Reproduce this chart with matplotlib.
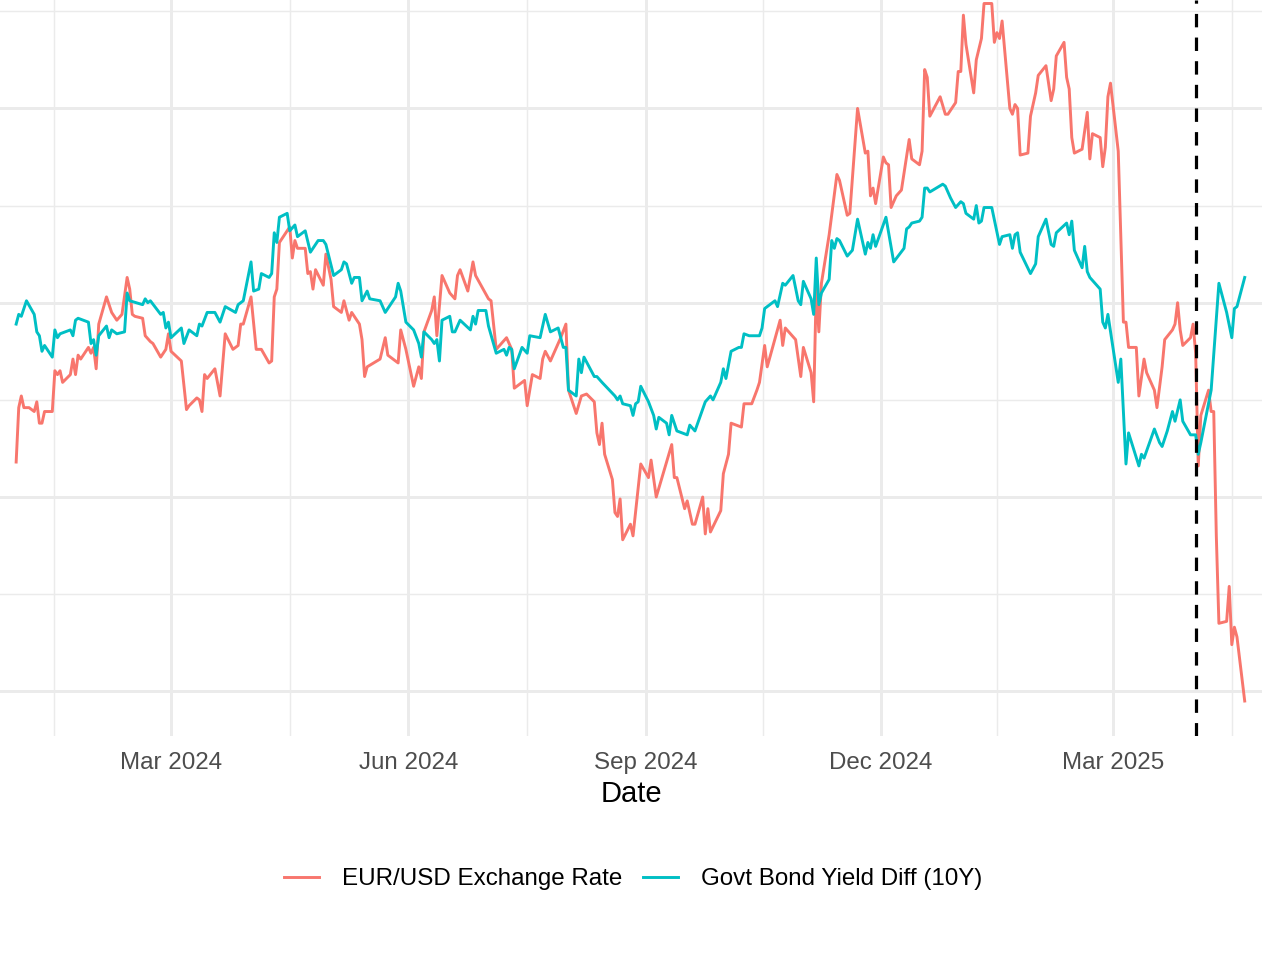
import pandas as pd
import matplotlib
matplotlib.use("Agg")
import matplotlib.pyplot as plt
import matplotlib.dates as mdates
from matplotlib.ticker import FixedLocator, NullFormatter

# both series are standardised (z-scores), dates are days since 2024-01-01
start = pd.Timestamp("2024-01-01")
event_date = pd.Timestamp("2025-04-02")

fx_days = [0, 1, 2, 3, 5, 7, 8, 9, 10, 11, 14, 15, 16, 17, 18, 21, 22, 23, 24, 25,
           28, 29, 30, 31, 32, 35, 37, 39, 41, 43, 44, 45, 46, 49, 50, 52, 53, 56, 58, 59,
           60, 64, 66, 67, 70, 71, 72, 73, 74, 77, 79, 81, 84, 86, 87, 88, 91, 93, 95, 98,
           99, 100, 101, 102, 106, 107, 108, 109, 112, 113, 114, 115, 116, 119, 120, 122, 123, 126, 127, 129,
           130, 133, 134, 135, 136, 141, 143, 144, 148, 149, 151, 154, 156, 157, 158, 161, 162, 163, 165, 168,
           170, 171, 172, 175, 177, 178, 183, 184, 186, 190, 192, 193, 197, 198, 200, 203, 204, 205, 207, 211,
           213, 214, 217, 219, 221, 224, 225, 226, 227, 228, 231, 232, 233, 234, 235, 238, 239, 242, 245, 246,
           248, 254, 255, 256, 259, 260, 262, 263, 266, 267, 268, 269, 273, 274, 276, 277, 281, 282, 285, 287,
           288, 290, 291, 296, 297, 298, 302, 304, 305, 308, 309, 310, 311, 312, 315, 318, 319, 322, 323, 326,
           329, 330, 331, 332, 333, 336, 337, 338, 339, 341, 343, 346, 347, 350, 351, 352, 353, 354, 358, 360,
           361, 364, 365, 366, 367, 368, 371, 372, 374, 375, 378, 379, 380, 381, 382, 385, 386, 387, 388, 389,
           392, 393, 395, 396, 399, 401, 402, 403, 406, 407, 408, 409, 410, 413, 415, 416, 417, 420, 421, 422,
           423, 424, 427, 429, 430, 431, 434, 435, 437, 438, 441, 442, 444, 445, 448, 449, 450, 451, 452, 455,
           456, 457, 458, 459, 462, 463, 464, 465, 466, 469, 470, 471, 472, 473, 476]
fx_z = [0.18, 0.46, 0.52, 0.46, 0.46, 0.44, 0.49, 0.38, 0.38, 0.44, 0.44, 0.65, 0.63, 0.65, 0.59, 0.63, 0.71, 0.63, 0.73, 0.71,
        0.77, 0.74, 0.77, 0.66, 0.89, 1.03, 0.95, 0.91, 0.94, 1.13, 1.07, 0.94, 0.93, 0.92, 0.83, 0.80, 0.79, 0.72, 0.76, 0.84,
        0.75, 0.70, 0.45, 0.47, 0.51, 0.50, 0.44, 0.63, 0.61, 0.66, 0.52, 0.84, 0.76, 0.78, 0.89, 0.89, 1.03, 0.76, 0.76, 0.69,
        0.70, 1.03, 1.07, 1.31, 1.39, 1.23, 1.32, 1.28, 1.28, 1.15, 1.16, 1.07, 1.17, 1.09, 1.25, 1.12, 0.98, 0.95, 1.01, 0.91,
        0.95, 0.89, 0.81, 0.62, 0.67, 0.71, 0.82, 0.73, 0.69, 0.86, 0.76, 0.57, 0.67, 0.61, 0.85, 0.96, 1.03, 0.83, 1.14, 1.05,
        1.02, 1.14, 1.17, 1.06, 1.21, 1.14, 1.02, 1.01, 0.76, 0.82, 0.76, 0.56, 0.60, 0.47, 0.63, 0.61, 0.71, 0.75, 0.70, 0.82,
        0.89, 0.55, 0.43, 0.52, 0.53, 0.49, 0.33, 0.27, 0.38, 0.22, 0.09, -0.08, -0.10, -0.01, -0.22, -0.14, -0.20, 0.17, 0.10, 0.19,
        0.00, 0.27, 0.10, 0.10, -0.06, -0.02, -0.14, -0.14, 0.00, -0.19, -0.06, -0.18, -0.07, 0.12, 0.22, 0.38, 0.36, 0.48, 0.48, 0.55,
        0.59, 0.78, 0.67, 0.91, 0.78, 0.87, 0.81, 0.62, 0.77, 0.64, 0.49, 1.08, 0.85, 1.10, 1.35, 1.66, 1.63, 1.45, 1.46, 2.00,
        1.77, 1.78, 1.55, 1.59, 1.51, 1.75, 1.72, 1.71, 1.49, 1.55, 1.58, 1.84, 1.74, 1.71, 1.78, 2.20, 2.16, 1.96, 2.06, 1.97,
        1.97, 2.03, 2.19, 2.19, 2.48, 2.33, 2.08, 2.25, 2.36, 2.54, 2.54, 2.34, 2.39, 2.36, 2.45, 2.00, 1.97, 2.02, 2.00, 1.76,
        1.77, 1.96, 2.08, 2.17, 2.22, 2.04, 2.10, 2.27, 2.34, 2.16, 2.10, 1.85, 1.77, 1.79, 1.98, 1.74, 1.87, 1.85, 1.70, 1.80,
        2.06, 2.13, 1.78, 0.90, 0.90, 0.77, 0.77, 0.52, 0.71, 0.64, 0.55, 0.46, 0.67, 0.81, 0.86, 0.89, 1.00, 0.86, 0.78, 0.82,
        0.89, 0.74, 0.16, 0.42, 0.55, 0.44, 0.44, -0.20, -0.65, -0.64, -0.46, -0.76, -0.67, -0.72, -1.05]

bond_days = [0, 1, 2, 4, 7, 8, 9, 10, 11, 14, 15, 16, 17, 21, 22, 23, 24, 28, 29, 30,
             31, 32, 35, 36, 37, 39, 42, 43, 44, 49, 50, 51, 52, 56, 57, 58, 59, 60, 64, 65,
             67, 70, 71, 72, 74, 77, 79, 81, 85, 86, 88, 91, 92, 94, 95, 98, 99, 100, 101, 102,
             105, 106, 108, 109, 112, 114, 117, 119, 120, 123, 126, 127, 128, 130, 131, 133, 134, 136, 137, 141,
             143, 147, 148, 149, 151, 154, 156, 157, 158, 161, 162, 163, 164, 165, 168, 169, 170, 172, 176, 177,
             178, 179, 182, 183, 186, 189, 190, 191, 192, 193, 196, 198, 199, 203, 205, 207, 210, 212, 213, 214,
             217, 218, 219, 220, 224, 225, 227, 232, 233, 234, 235, 238, 239, 240, 241, 242, 245, 247, 248, 249,
             252, 253, 254, 256, 260, 261, 263, 267, 269, 270, 273, 274, 275, 277, 280, 281, 282, 284, 288, 289,
             290, 292, 294, 295, 297, 298, 301, 303, 304, 305, 308, 309, 310, 311, 312, 315, 316, 317, 318, 319,
             322, 324, 326, 329, 330, 331, 332, 333, 337, 340, 344, 345, 346, 347, 350, 351, 352, 353, 354, 359,
             360, 362, 364, 366, 367, 368, 371, 372, 373, 374, 375, 378, 381, 382, 385, 386, 387, 388, 389, 393,
             395, 396, 399, 401, 402, 403, 407, 408, 409, 410, 413, 414, 415, 416, 420, 421, 422, 423, 427, 428,
             430, 431, 435, 436, 437, 441, 443, 444, 446, 448, 449, 451, 452, 455, 457, 458, 459, 463, 466, 469,
             471, 472, 473, 476]
bond_z = [0.89, 0.94, 0.93, 1.01, 0.94, 0.85, 0.83, 0.75, 0.78, 0.72, 0.86, 0.82, 0.84, 0.86, 0.83, 0.91, 0.92, 0.90, 0.79, 0.81,
          0.73, 0.83, 0.88, 0.82, 0.86, 0.84, 0.85, 1.05, 1.01, 0.99, 1.02, 1.00, 1.01, 0.94, 0.95, 0.87, 0.90, 0.82, 0.87, 0.79,
          0.86, 0.83, 0.89, 0.88, 0.95, 0.95, 0.90, 0.98, 0.95, 0.99, 1.01, 1.21, 1.06, 1.07, 1.15, 1.13, 1.15, 1.36, 1.31, 1.44,
          1.46, 1.37, 1.40, 1.34, 1.37, 1.26, 1.32, 1.32, 1.30, 1.14, 1.17, 1.21, 1.20, 1.10, 1.13, 1.13, 1.01, 1.06, 1.02, 1.01,
          0.95, 1.03, 1.10, 1.06, 0.90, 0.86, 0.79, 0.72, 0.85, 0.81, 0.79, 0.81, 0.70, 0.91, 0.93, 0.85, 0.85, 0.91, 0.86, 0.93,
          0.89, 0.96, 0.96, 0.88, 0.74, 0.76, 0.73, 0.77, 0.76, 0.66, 0.77, 0.74, 0.83, 0.82, 0.94, 0.85, 0.87, 0.77, 0.77, 0.55,
          0.52, 0.71, 0.64, 0.72, 0.62, 0.62, 0.59, 0.52, 0.50, 0.52, 0.48, 0.47, 0.42, 0.48, 0.49, 0.57, 0.49, 0.42, 0.35, 0.41,
          0.38, 0.32, 0.42, 0.34, 0.32, 0.37, 0.34, 0.49, 0.52, 0.50, 0.59, 0.66, 0.61, 0.75, 0.77, 0.77, 0.84, 0.83, 0.83, 0.87,
          0.97, 0.99, 1.01, 0.98, 1.10, 1.09, 1.14, 1.01, 0.99, 1.11, 1.02, 0.94, 1.23, 0.99, 1.05, 1.12, 1.32, 1.28, 1.33, 1.32,
          1.24, 1.27, 1.43, 1.25, 1.31, 1.28, 1.35, 1.29, 1.44, 1.21, 1.28, 1.38, 1.39, 1.41, 1.42, 1.44, 1.59, 1.59, 1.57, 1.61,
          1.60, 1.54, 1.49, 1.52, 1.51, 1.46, 1.43, 1.50, 1.41, 1.42, 1.49, 1.49, 1.30, 1.34, 1.35, 1.28, 1.35, 1.36, 1.26, 1.15,
          1.20, 1.34, 1.43, 1.30, 1.29, 1.36, 1.41, 1.35, 1.42, 1.27, 1.18, 1.29, 1.16, 1.13, 1.07, 0.90, 0.87, 0.94, 0.59, 0.71,
          0.17, 0.33, 0.16, 0.22, 0.20, 0.35, 0.28, 0.26, 0.34, 0.44, 0.39, 0.50, 0.39, 0.32, 0.32, 0.22, 0.28, 0.55, 1.10, 0.95,
          0.82, 0.97, 0.98, 1.13]

fx_dates = start + pd.to_timedelta(fx_days, unit="D")
bond_dates = start + pd.to_timedelta(bond_days, unit="D")

red = "#F8766D"
teal = "#00BFC4"
grid_col = "#EBEBEB"

plt.rcParams['font.family'] = ['Liberation Sans', 'DejaVu Sans']

fig = plt.figure(figsize=(12.62, 9.63), dpi=100)
ax = fig.add_axes([0, 227 / 963, 1, 736 / 963])

ax.plot(fx_dates, fx_z, color=red, lw=2.1, label="EUR/USD Exchange Rate")
ax.plot(bond_dates, bond_z, color=teal, lw=2.1, label="Govt Bond Yield Diff (10Y)")
ax.axvline(event_date, color="black", lw=2.3, linestyle=(0, (4.2, 3.2)))

# quarterly breaks, minor breaks half way between them
majors = pd.date_range("2023-12-01", "2025-06-01", freq="3MS")
minors = majors[:-1] + (majors[1:] - majors[:-1]) / 2
ax.xaxis.set_major_locator(mdates.MonthLocator(bymonth=[3, 6, 9, 12]))
ax.xaxis.set_major_formatter(mdates.DateFormatter("%b %Y"))
ax.xaxis.set_minor_locator(FixedLocator(mdates.date2num(minors)))
ax.yaxis.set_major_locator(FixedLocator([-1, 0, 1, 2]))
ax.yaxis.set_minor_locator(FixedLocator([-0.5, 0.5, 1.5, 2.5]))
ax.yaxis.set_major_formatter(NullFormatter())

ax.grid(which="major", color=grid_col, lw=2.1)
ax.grid(which="minor", color=grid_col, lw=1.05)
ax.set_axisbelow(True)
for s in ax.spines.values():
    s.set_visible(False)
ax.tick_params(which="both", length=0)
ax.tick_params(axis="x", labelsize=17.4, labelcolor="#4D4D4D", pad=11.8)

ax.set_xlim(start - pd.Timedelta(days=6.26), start + pd.Timedelta(days=482.7))
ax.set_ylim(-1.230, 2.558)
ax.set_xlabel("Date", fontsize=21, labelpad=3.7)

handles, labels = ax.get_legend_handles_labels()
fig.legend(handles, labels, loc="center", bbox_to_anchor=(0.5016, 1 - 879 / 963), ncol=2,
           frameon=False, fontsize=17.4, handlelength=1.45, handletextpad=0.95, columnspacing=0.85)

fig.savefig("out.png", dpi=100)
